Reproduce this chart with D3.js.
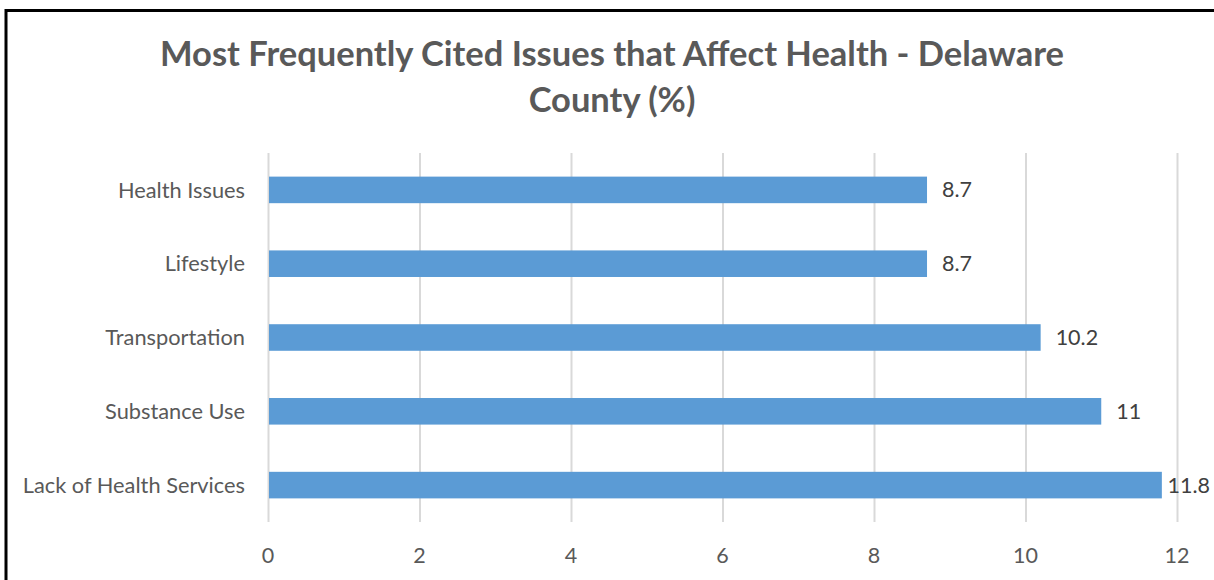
<!DOCTYPE html>
<html><head><meta charset="utf-8">
<script src="https://cdn.jsdelivr.net/npm/d3@7"></script>
<style>body{margin:0;background:#fff;overflow:hidden}svg{display:block}</style>
</head><body>
<script>
const categories = ["Health Issues","Lifestyle","Transportation","Substance Use","Lack of Health Services"];
const values = [8.7, 8.7, 10.2, 11, 11.8];
const xTicks = [0,2,4,6,8,10,12];
const titleLines = ["Most Frequently Cited Issues that Affect Health - Delaware","County (%)"];

const W=1214,H=580;
const svg=d3.select("body").append("svg").attr("width",W).attr("height",H);
svg.append("rect").attr("width",W).attr("height",H).attr("fill","#fff");
// frame
svg.append("rect").attr("x",6).attr("y",10.5).attr("width",W+10).attr("height",H+10)
  .attr("fill","none").attr("stroke","#000").attr("stroke-width",3);

const font="Lato, 'Open Sans', sans-serif";
const x=d3.scaleLinear().domain([0,12]).range([268,1177]);
const y=d3.scaleBand().domain(categories).range([153,522]).paddingInner(0.64).paddingOuter(0.32);

// gridlines
svg.append("g").selectAll("line").data(xTicks).join("line")
  .attr("x1",d=>x(d)+0.5).attr("x2",d=>x(d)+0.5).attr("y1",153).attr("y2",522)
  .attr("stroke","#d9d9d9").attr("stroke-width",2);

// bars
svg.append("g").selectAll("rect").data(values).join("rect")
  .attr("x",x(0)+1).attr("y",(d,i)=>y(categories[i]))
  .attr("width",d=>x(d)-x(0)-1).attr("height",y.bandwidth())
  .attr("fill","#5b9bd5");

// value labels
svg.append("g").selectAll("text").data(values).join("text")
  .attr("x",d=>x(d)+15).attr("y",(d,i)=>y(categories[i])+y.bandwidth()/2)
  .attr("dy","0.35em").attr("font-family",font).attr("font-size",21.5).attr("fill","#404040")
  .text(d=>d)
  .each(function(){
    const w=this.getComputedTextLength();
    const x0=+this.getAttribute("x");
    if(x0+w>1210) this.setAttribute("x",1210-w);
  });

// category labels
svg.append("g").selectAll("text").data(categories).join("text")
  .attr("x",245).attr("y",d=>y(d)+y.bandwidth()/2).attr("dy","0.35em")
  .attr("text-anchor","end").attr("font-family",font).attr("font-size",21.8).attr("fill","#595959")
  .text(d=>d);

// x tick labels
svg.append("g").selectAll("text").data(xTicks).join("text")
  .attr("x",d=>x(d)).attr("y",555).attr("dy","0.35em").attr("text-anchor","middle")
  .attr("font-family",font).attr("font-size",21.5).attr("fill","#595959").text(d=>d);

// title
svg.append("g").selectAll("text").data(titleLines).join("text")
  .attr("x",612).attr("y",(d,i)=>54+i*46).attr("dy","0.35em").attr("text-anchor","middle")
  .attr("font-family",font).attr("font-weight","bold").attr("font-size",34.5).attr("fill","#595959")
  .text(d=>d);
</script>
</body></html>
